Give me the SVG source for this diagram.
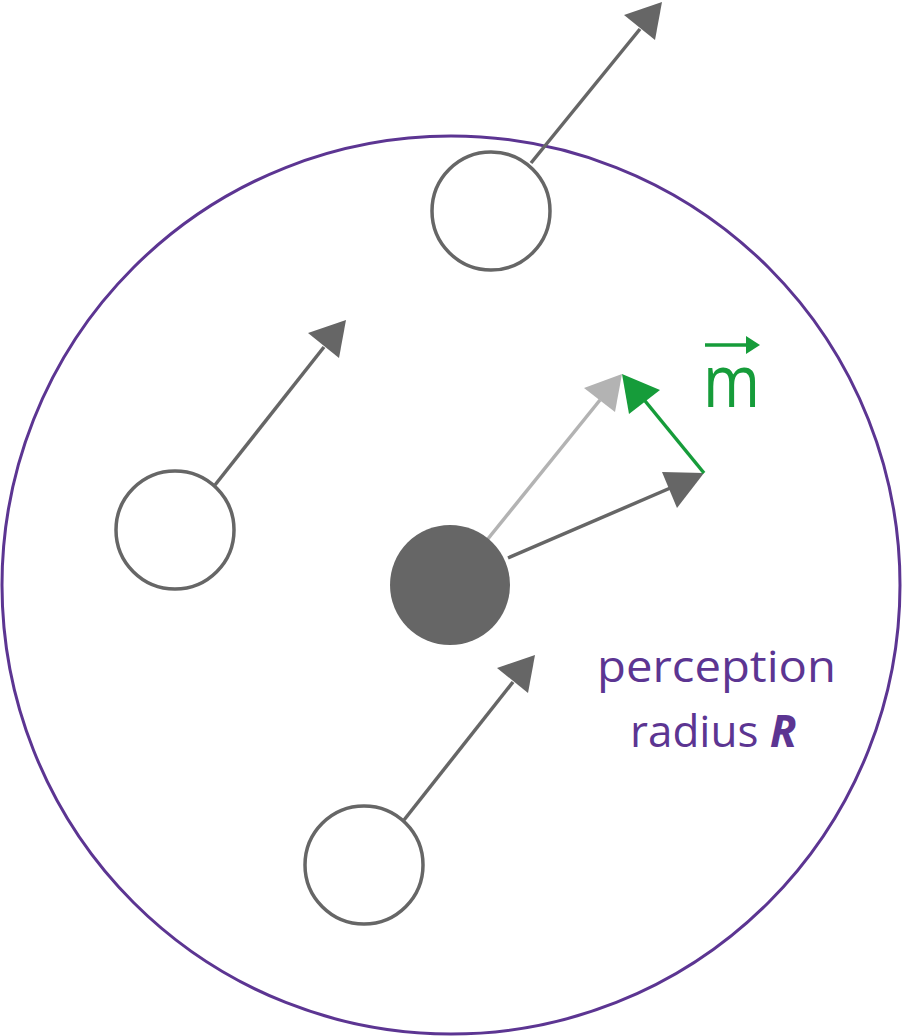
<svg xmlns="http://www.w3.org/2000/svg" width="903" height="1036" viewBox="0 0 903 1036">
<style>
.o{fill:#fff;stroke:#666;stroke-width:3.5}
.l{stroke:#666;stroke-width:3.5;fill:none}
.t{font-family:"Open Sans","Liberation Sans",sans-serif}
</style>
<defs>
<marker id="a" viewBox="0 0 10 10" refX="10" refY="5" markerWidth="10" markerHeight="10" markerUnits="userSpaceOnUse" orient="auto"><path d="M0,0L10,5L0,10z" fill="#666"/></marker>
</defs>
<rect width="903" height="1036" fill="#fff"/>
<g id="perception"><circle cx="451" cy="585" r="449" fill="none" stroke="#5c3592" stroke-width="3"/></g>
<g id="connectors" stroke-width="3.5">
<line x1="531" y1="163" x2="640" y2="29" stroke="#666"/><polygon points="662,2 655,40 624,15" fill="#666"/>
<line x1="215" y1="485" x2="324" y2="347" stroke="#666"/><polygon points="346,320 339,358 308,333" fill="#666"/>
<line x1="404" y1="820" x2="513" y2="682" stroke="#666"/><polygon points="535,655 528,693 497,668" fill="#666"/>
<line x1="487" y1="540" x2="600" y2="400" stroke="#b3b3b3"/><polygon points="622,374 615,412 584,388" fill="#b3b3b3"/>
<line x1="508" y1="558" x2="675" y2="486" stroke="#666"/><polygon points="704,473 677,508 662,472" fill="#666"/>
<line x1="704" y1="473" x2="641" y2="396" stroke="#169c3a"/><polygon points="622,374 660,390 629,414" fill="#169c3a"/>
<line x1="705" y1="345" x2="748" y2="345" stroke="#169c3a"/><polygon points="760,345 746,336 746,354" fill="#169c3a"/>
</g>
<g id="agent"><circle cx="450" cy="585" r="60" fill="#666"/></g>
<g id="n1"><circle class="o" cx="491" cy="211" r="59"/></g>
<g id="n2"><circle class="o" cx="175" cy="530" r="59"/></g>
<g id="n3"><circle class="o" cx="364" cy="865" r="59"/></g>
<text class="t" x="703" y="407" font-size="74" fill="#169c3a" textLength="57" lengthAdjust="spacingAndGlyphs">m</text>
<text class="t" x="597" y="682" font-size="44" fill="#5c3592" textLength="239" lengthAdjust="spacingAndGlyphs">perception</text>
<text class="t" x="630" y="747" font-size="44" fill="#5c3592">radius <tspan font-weight="bold" font-style="italic">R</tspan></text>
</svg>
